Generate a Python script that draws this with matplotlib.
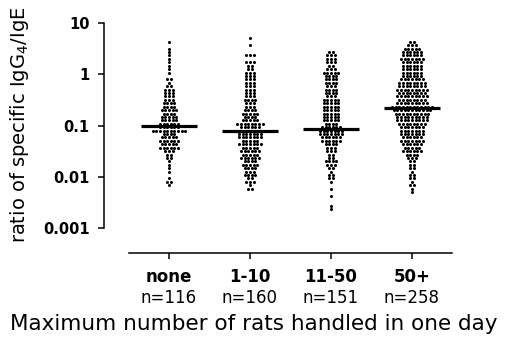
import matplotlib
matplotlib.use('Agg')
import matplotlib.pyplot as plt
import matplotlib.transforms as mtransforms
import numpy as np

plt.rcParams['font.family'] = ['DejaVu Sans']
plt.rcParams['mathtext.fontset'] = 'dejavusans'

# ── data ──────────────────────────────────────────
groups = ['none', '1-10', '11-50', '50+']
n_labels = ['n=116', 'n=160', 'n=151', 'n=258']
medians = [0.098, 0.078, 0.085, 0.22]

# dot-plot rows: log10 level of each row (top row first, 1/15 decade apart)
row_log = 0.7 - np.arange(52) / 15
row_values = 10 ** row_log

# number of subjects in each row
counts_none = [0, 1, 0, 1, 1, 1, 1, 1, 1, 1, 1, 0, 2, 1, 2, 3, 3, 3, 3, 4,
               4, 5, 4, 5, 5, 6, 6, 10, 4, 5, 6, 5, 6, 3, 2, 2, 1, 1, 1, 1,
               0, 1, 2, 1, 0, 0, 0, 0, 0, 0, 0, 0]
counts_1_10 = [1, 0, 1, 0, 0, 3, 0, 3, 2, 2, 3, 3, 3, 3, 3, 3, 3, 3, 4, 3,
               3, 4, 5, 4, 5, 8, 6, 6, 7, 7, 5, 7, 5, 6, 5, 6, 4, 5, 4, 3,
               4, 2, 3, 1, 2, 0, 0, 0, 0, 0, 0, 0]
counts_11_50 = [0, 0, 0, 0, 2, 3, 3, 3, 2, 3, 5, 4, 4, 4, 3, 4, 4, 3, 5, 5,
                5, 5, 5, 5, 5, 4, 6, 7, 7, 6, 6, 4, 3, 3, 2, 2, 4, 3, 2, 1,
                2, 2, 1, 0, 1, 0, 1, 0, 0, 1, 1, 0]
counts_50 = [0, 2, 3, 5, 6, 6, 7, 6, 6, 6, 6, 6, 7, 8, 8, 9, 8, 9, 8, 9,
             12, 11, 10, 9, 9, 8, 7, 7, 7, 6, 7, 6, 5, 6, 4, 3, 2, 2, 2, 1,
             2, 2, 1, 2, 1, 1, 0, 0, 0, 0, 0, 0]
all_counts = [counts_none, counts_1_10, counts_11_50, counts_50]

# ── figure ────────────────────────────────────────
W, H = 507, 337
fig = plt.figure(figsize=(W / 100, H / 100), dpi=100)
ax = fig.add_axes([104 / W, 1 - 253 / H, (452 - 104) / W, (253 - 23) / H])

dx = 0.045  # horizontal spacing of dots in a row
for gi, counts in enumerate(all_counts):
    xs, ys = [], []
    for val, c in zip(row_values, counts):
        offs = (np.arange(c) - (c - 1) / 2) * dx
        xs.extend(gi + offs)
        ys.extend([val] * c)
    ax.plot(xs, ys, 'o', color='black', ms=2.2, mew=0, zorder=2)
    ax.hlines(medians[gi], gi - 0.345, gi + 0.345, color='black',
              lw=2.3, zorder=3)

ax.set_yscale('log')
ax.set_ylim(10 ** (1 - 230 / 51.25), 10)
ax.set_xlim(-0.8025, 3.494)
ax.minorticks_off()
ax.set_yticks([0.001, 0.01, 0.1, 1, 10])
ax.set_yticklabels(['0.001', '0.01', '0.1', '1', '10'],
                   fontweight='bold', fontsize=10.5)
ax.set_xticks(range(len(groups)))
ax.set_xticklabels([])

for s in ['top', 'right']:
    ax.spines[s].set_visible(False)
ax.spines['left'].set_bounds(0.001, 10)
ax.spines['bottom'].set_bounds(-0.5, 3.494)
for s in ['left', 'bottom']:
    ax.spines[s].set_linewidth(1.1)
ax.tick_params(axis='both', length=4, width=1.1, color='black')
ax.tick_params(axis='y', pad=6.5)

trans = mtransforms.blended_transform_factory(ax.transData, fig.transFigure)
for gi, (g, nl) in enumerate(zip(groups, n_labels)):
    ax.text(gi, 1 - 282 / H, g, transform=trans, ha='center', va='baseline',
            fontsize=12, fontweight='bold', clip_on=False)
    ax.text(gi, 1 - 303 / H, nl, transform=trans, ha='center', va='baseline',
            fontsize=12, clip_on=False)

fig.text(254 / W, 1 - 330 / H, 'Maximum number of rats handled in one day',
         ha='center', va='baseline', fontsize=15.5)
fig.text(20 / W, 1 - 125 / H, 'ratio of specific IgG$_4$/IgE',
         rotation=90, ha='center', va='center', fontsize=14)

fig.savefig('out.png', dpi=100, facecolor='white')
